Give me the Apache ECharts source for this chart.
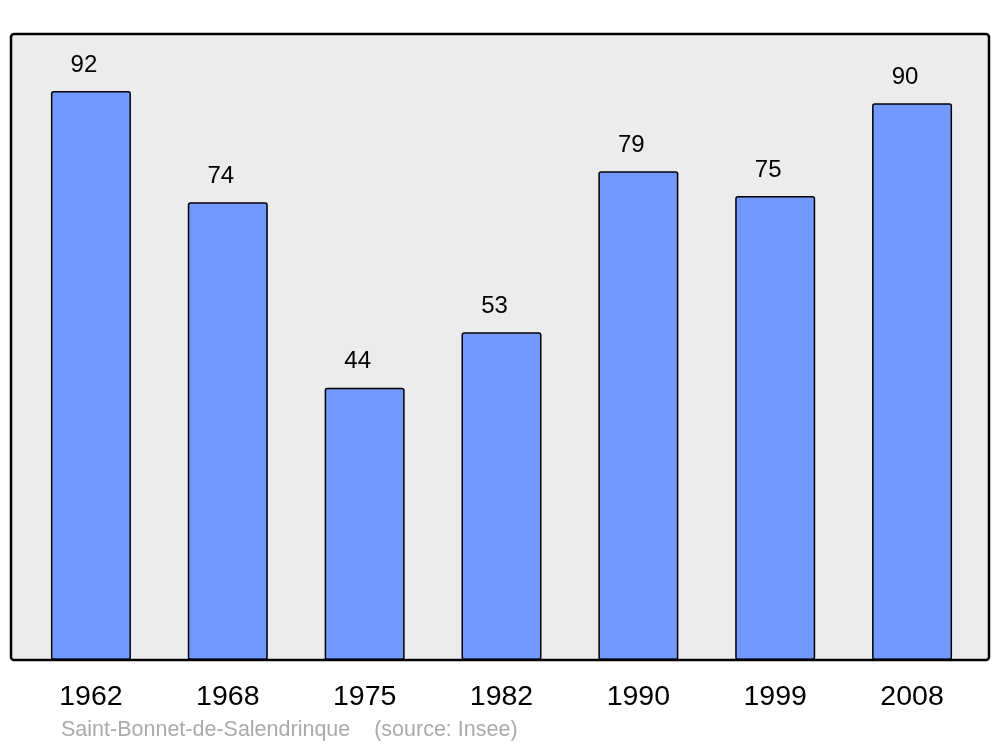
<!DOCTYPE html>
<html>
<head>
<meta charset="utf-8">
<script src="https://cdn.jsdelivr.net/npm/echarts@6/dist/echarts.min.js"></script>
<style>
html,body{margin:0;padding:0;background:#fff;}
#c{width:1000px;height:747px;}
</style>
</head>
<body>
<div id="c"></div>
<script>
var categories = ['1962','1968','1975','1982','1990','1999','2008'];
var values = [92, 74, 44, 53, 79, 75, 90];
var footerText = 'Saint-Bonnet-de-Salendrinque    (source: Insee)';

var chart = echarts.init(document.getElementById('c'), null, {renderer: 'canvas'});
var FONT = '"Liberation Sans", Arial, sans-serif';
chart.setOption({
  animation: false,
  backgroundColor: '#ffffff',
  grid: {left: 22.5, right: 19.5, top: 34, bottom: 87},
  graphic: [
    {type: 'rect', z: -10, shape: {x: 11, y: 34, width: 978, height: 626, r: 3},
     style: {fill: '#ececec', stroke: 'none'}},
    {type: 'rect', z: 100, shape: {x: 11, y: 34, width: 978, height: 626, r: 3},
     style: {fill: 'none', stroke: '#000', lineWidth: 2.5}},
    {type: 'text', z: 100, left: 61, top: 719,
     style: {text: footerText, fill: '#aaaaaa', font: '21.5px ' + FONT}}
  ],
  xAxis: {
    type: 'category', data: categories, boundaryGap: true,
    axisLine: {show: false}, axisTick: {show: false},
    axisLabel: {color: '#000', fontSize: 28.5, fontFamily: FONT, margin: 23}
  },
  yAxis: {
    type: 'value', min: 0, max: 101.2, show: false,
    splitLine: {show: false}
  },
  series: [{
    type: 'bar', data: values, barWidth: 80,
    itemStyle: {color: '#7399ff', borderColor: '#000', borderWidth: 1.5, borderRadius: 2},
    label: {show: true, position: 'top', distance: 14, offset: [-7, 0],
      color: '#000', fontSize: 24, fontFamily: FONT}
  }]
});
</script>
</body>
</html>
